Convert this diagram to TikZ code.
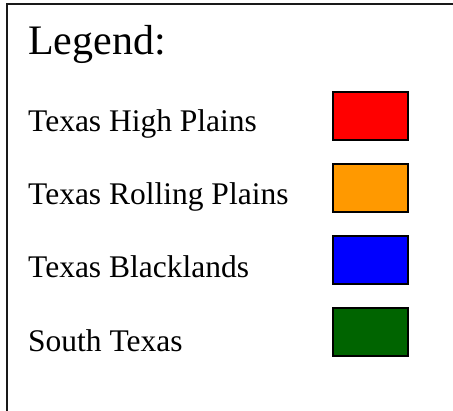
\documentclass[tikz,border=0pt]{standalone}
\usepackage{fontspec}
\setmainfont{Liberation Serif}
\usetikzlibrary{positioning}
\definecolor{c1}{HTML}{FF0000}
\definecolor{c2}{HTML}{FF9900}
\definecolor{c3}{HTML}{0000FF}
\definecolor{c4}{HTML}{006400}
\tikzset{
  title/.style={anchor=base west, inner sep=0pt, font=\fontsize{42}{50}\selectfont},
  entry/.style={anchor=base west, inner sep=0pt, font=\fontsize{31.5}{38}\selectfont},
  swatch/.style={rectangle, draw=black, line width=2pt, minimum width=75pt, minimum height=48pt, inner sep=0pt},
  frame/.style={line width=2pt, draw=black!90},
}
\begin{document}
\begin{tikzpicture}[x=1pt, y=-1pt]
	\useasboundingbox (0,0) rectangle (453,411);

	\draw[frame] (6.5,412) -- (6.5,4.5) -- (454,4.5);

	\node[title] (legend) at (28,55) {Legend:};

	\node[entry] (high) at (28,131.5) {Texas High Plains};
	\node[entry] (rolling) at (28,204.5) {Texas Rolling Plains};
	\node[entry] (black) at (28,277.5) {Texas Blacklands};
	\node[entry] (south) at (28,351.5) {South Texas};

	\node[swatch, fill=c1] (highbox) at (370.5,116) {};
	\node[swatch, fill=c2] (rollingbox) at (370.5,188) {};
	\node[swatch, fill=c3] (blackbox) at (370.5,260) {};
	\node[swatch, fill=c4] (southbox) at (370.5,332) {};

\end{tikzpicture}
\end{document}
